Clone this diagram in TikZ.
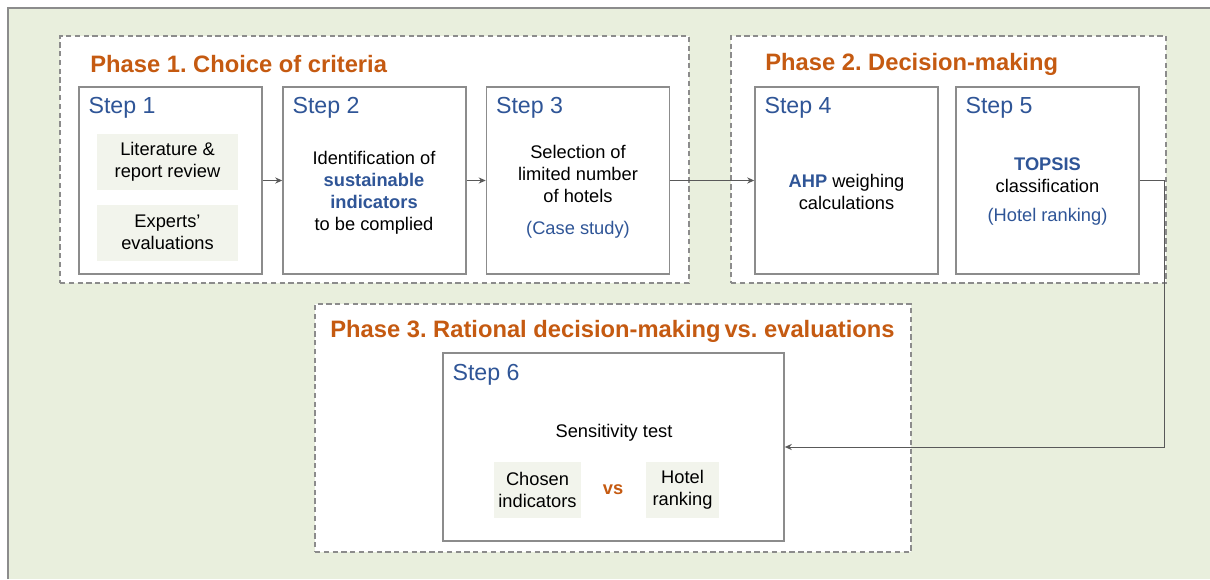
\documentclass[tikz,border=0pt]{standalone}
\usepackage{fontspec}
\setmainfont{Liberation Sans}
\usetikzlibrary{positioning, arrows.meta, calc}
\definecolor{phaseorange}{RGB}{197, 90, 17}
\definecolor{stepblue}{RGB}{47, 85, 151}
\definecolor{bggreen}{RGB}{233, 239, 221}
\definecolor{itemgray}{RGB}{242, 244, 236}
\definecolor{framegray}{RGB}{140, 140, 140}
\definecolor{arrowgray}{RGB}{89, 89, 89}
\frenchspacing

\begin{document}
\begin{tikzpicture}[
    phasebox/.style={draw=framegray, dash pattern=on 3pt off 2pt, fill=white, shape=rectangle, line width=0.6pt},
    phasetitle/.style={anchor=west, text=phaseorange, font=\fontsize{13.5}{16}\selectfont\bfseries, inner sep=0pt},
    stepbox/.style={draw=framegray, fill=white, line width=0.9pt, minimum width=3.66cm, minimum height=3.74cm},
    steplabel/.style={anchor=west, text=stepblue, font=\fontsize{13.2}{15}\selectfont, inner sep=0pt},
    steptext/.style={align=center, font=\fontsize{10.4}{12.5}\selectfont, inner sep=0pt},
    itembox/.style={fill=itemgray, align=center, font=\fontsize{10.4}{12.5}\selectfont, inner sep=0pt, minimum height=1.12cm},
    flowarrow/.style={-{Stealth[length=4pt, width=3.5pt]}, arrowgray, line width=0.55pt}
  ]
  \useasboundingbox (0,0) rectangle (24.2,-11.58);
  % green panel, framed on top and left only
  \fill[bggreen] (0.16,-0.16) rectangle (24.2,-11.58);
  \draw[framegray, line width=1pt] (0.16,-11.58) -- (0.16,-0.16) -- (24.2,-0.16);

  % phases
  \node[phasebox, minimum width=12.58cm, minimum height=4.94cm] (P1) at (7.49,-3.19) {};
  \node[phasebox, minimum width=8.70cm, minimum height=4.94cm] (P2) at (18.97,-3.19) {};
  \node[phasebox, minimum width=11.92cm, minimum height=4.96cm] (P3) at (12.26,-8.56) {};
  \node[phasetitle] (P1t) at (1.8,-1.28) {Phase 1. Choice of criteria};
  \node[phasetitle] (P2t) at (15.3,-1.28) {Phase 2. Decision-making};
  \node[phasetitle] (P3t) at (6.6,-6.62) {Phase 3. Rational decision-making\hspace{-1.5pt} vs. evaluations};

  % steps
  \node[stepbox] (S1) at (3.41,-3.61) {};
  \node[stepbox] (S2) at (7.49,-3.61) {};
  \node[stepbox] (S3) at (11.56,-3.61) {};
  \node[stepbox] (S4) at (16.93,-3.61) {};
  \node[stepbox] (S5) at (20.95,-3.61) {};
  \node[stepbox, minimum width=6.82cm, minimum height=3.76cm] (S6) at (12.27,-8.94) {};

  \node[steplabel] (S1l) at ($(S1.north west)+(0.2,-0.43)$) {Step 1};
  \node[steplabel] (S2l) at ($(S2.north west)+(0.2,-0.43)$) {Step 2};
  \node[steplabel] (S3l) at ($(S3.north west)+(0.2,-0.43)$) {Step 3};
  \node[steplabel] (S4l) at ($(S4.north west)+(0.2,-0.43)$) {Step 4};
  \node[steplabel] (S5l) at ($(S5.north west)+(0.2,-0.43)$) {Step 5};
  \node[steplabel] (S6l) at ($(S6.north west)+(0.2,-0.45)$) {Step 6};

  % step contents
  \node[itembox, minimum width=2.82cm] (lit) at (3.35,-3.24) {Literature \&\\report review};
  \node[itembox, minimum width=2.82cm] (exp) at (3.35,-4.65) {Experts'\\evaluations};
  \node[steptext] (S2x) at (7.48,-3.86) {Identification of\\\textcolor{stepblue}{\bfseries sustainable}\\\textcolor{stepblue}{\bfseries indicators}\\to be complied};
  \node[steptext] (S3x) at (11.56,-3.84) {Selection of\\limited number\\of hotels\\[5.7pt]\textcolor{stepblue}{(Case study)}};
  \node[steptext] (S4x) at (16.93,-3.83) {\textcolor{stepblue}{\bfseries AHP} weighing\\calculations};
  \node[steptext] (S5x) at (20.95,-3.83) {\textcolor{stepblue}{\bfseries TOPSIS}\\classification\\[4.5pt]\textcolor{stepblue}{(Hotel ranking)}};
  \node[steptext] (sens) at (12.28,-8.66) {Sensitivity test};
  \node[itembox, minimum width=1.74cm] (chosen) at (10.75,-9.8) {Chosen\\indicators};
  \node[itembox, minimum width=1.46cm] (rank) at (13.65,-9.8) {Hotel\\ranking};
  \node[steptext, text=phaseorange, font=\fontsize{10.4}{12.5}\selectfont\bfseries] (vs) at (12.26,-9.8) {vs};

  % flow
  \coordinate (turn) at (23.28,-3.61);
  \draw[flowarrow] (S1) -- (S2);
  \draw[flowarrow] (S2) -- (S3);
  \draw[flowarrow] (S3) -- (S4);
  \draw[flowarrow] (S5.east) -- (turn) |- (S6.east);
\end{tikzpicture}
\end{document}
